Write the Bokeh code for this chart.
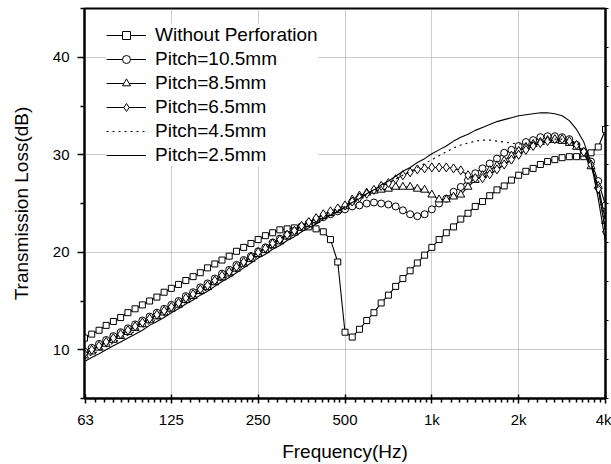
from bokeh.plotting import figure
from bokeh.models import FixedTicker, LinearAxis, Range1d, Legend, LegendItem
from bokeh.embed import file_html
from bokeh.resources import INLINE

# 1/12-octave frequency grid (Hz)
freq = [62.5, 66.2, 70.2, 74.3, 78.7, 83.4, 88.4, 93.6, 99.2, 105.1, 111.4, 118.0,
        125.0, 132.4, 140.3, 148.7, 157.5, 166.9, 176.8, 187.3, 198.4, 210.2, 222.7, 236.0,
        250.0, 264.9, 280.6, 297.3, 315.0, 333.7, 353.6, 374.6, 396.9, 420.4, 445.4, 471.9,
        500.0, 529.7, 561.2, 594.6, 630.0, 667.4, 707.1, 749.2, 793.7, 840.9, 890.9, 943.9,
        1000.0, 1059.5, 1122.5, 1189.2, 1259.9, 1334.8, 1414.2, 1498.3, 1587.4, 1681.8, 1781.8, 1887.7,
        2000.0, 2118.9, 2244.9, 2378.4, 2519.8, 2669.6, 2828.4, 2996.6, 3174.8, 3363.6, 3563.6, 3775.5,
        4000.0]

tl_without = [11.2, 11.6, 12.0, 12.5, 12.9, 13.3, 13.8, 14.2, 14.6, 15.0, 15.4, 15.9,
              16.3, 16.7, 17.1, 17.5, 17.9, 18.4, 18.8, 19.2, 19.6, 20.1, 20.5, 20.9,
              21.3, 21.7, 22.0, 22.3, 22.4, 22.5, 22.6, 22.6, 22.4, 22.1, 21.3, 19.0,
              11.8, 11.3, 12.1, 13.0, 13.8, 14.8, 15.6, 16.5, 17.3, 18.1, 18.9, 19.7,
              20.5, 21.3, 22.0, 22.6, 23.4, 24.0, 24.7, 25.2, 25.8, 26.4, 26.8, 27.4,
              27.9, 28.3, 28.6, 29.0, 29.3, 29.5, 29.7, 29.8, 29.8, 29.8, 30.2, 30.8,
              32.6]

tl_p105 = [9.8, 10.2, 10.6, 11.0, 11.4, 11.8, 12.2, 12.6, 13.0, 13.4, 13.8, 14.2,
           14.6, 15.0, 15.5, 15.9, 16.4, 16.8, 17.3, 17.8, 18.2, 18.7, 19.2, 19.6,
           20.1, 20.5, 21.0, 21.4, 21.8, 22.2, 22.6, 23.0, 23.3, 23.6, 23.9, 24.2,
           24.4, 24.7, 24.8, 25.0, 25.1, 25.0, 24.9, 24.7, 24.3, 23.9, 23.7, 23.9,
           24.4, 25.0, 25.5, 26.2, 26.7, 27.4, 28.1, 28.6, 29.1, 29.6, 30.2, 30.5,
           30.9, 31.3, 31.5, 31.8, 31.9, 31.9, 31.8, 31.6, 31.0, 30.3, 29.3, 27.3,
           24.8]

tl_p85 = [9.4, 9.8, 10.2, 10.6, 11.0, 11.4, 11.8, 12.2, 12.6, 13.0, 13.4, 13.8,
          14.2, 14.6, 15.1, 15.5, 16.0, 16.4, 16.9, 17.4, 17.8, 18.3, 18.8, 19.3,
          19.8, 20.2, 20.7, 21.1, 21.6, 22.0, 22.5, 22.9, 23.3, 23.7, 24.0, 24.3,
          24.7, 25.4, 25.8, 26.1, 26.3, 26.4, 26.5, 26.7, 26.7, 26.7, 26.5, 26.4,
          25.9, 25.4, 25.4, 25.7, 25.9, 26.7, 27.4, 27.9, 28.4, 28.9, 29.4, 29.9,
          30.4, 30.8, 31.1, 31.3, 31.5, 31.5, 31.4, 31.2, 30.8, 30.1, 28.8, 26.8,
          23.2]

tl_p65 = [9.6, 10.0, 10.4, 10.8, 11.2, 11.6, 12.0, 12.4, 12.8, 13.2, 13.6, 14.0,
          14.4, 14.8, 15.3, 15.7, 16.2, 16.6, 17.1, 17.6, 18.0, 18.5, 19.0, 19.5,
          20.0, 20.4, 20.9, 21.3, 21.8, 22.2, 22.7, 23.1, 23.5, 23.9, 24.2, 24.5,
          24.8, 25.2, 25.6, 26.0, 26.4, 26.8, 27.1, 27.5, 27.9, 28.2, 28.5, 28.6,
          28.7, 28.7, 28.7, 28.6, 28.4, 27.9, 27.6, 27.6, 28.0, 28.5, 29.0, 29.5,
          30.0, 30.5, 30.9, 31.2, 31.4, 31.6, 31.6, 31.4, 31.0, 30.3, 29.0, 26.5,
          22.1]

tl_p45 = [9.1, 9.5, 9.9, 10.3, 10.7, 11.1, 11.5, 11.9, 12.3, 12.7, 13.1, 13.5,
          14.0, 14.4, 14.9, 15.3, 15.8, 16.2, 16.7, 17.2, 17.6, 18.1, 18.6, 19.1,
          19.6, 20.0, 20.5, 20.9, 21.4, 21.8, 22.3, 22.7, 23.1, 23.5, 23.9, 24.3,
          24.7, 25.1, 25.5, 25.9, 26.3, 26.7, 27.1, 27.5, 27.9, 28.3, 28.7, 29.1,
          29.5, 29.9, 30.3, 30.7, 31.0, 31.2, 31.4, 31.5, 31.5, 31.4, 31.3, 31.2,
          31.1, 31.1, 31.2, 31.3, 31.5, 31.6, 31.6, 31.5, 31.2, 30.5, 29.4, 26.5,
          22.5]

tl_p25 = [8.8, 9.2, 9.6, 10.0, 10.4, 10.8, 11.2, 11.6, 12.0, 12.5, 12.9, 13.3,
          13.8, 14.2, 14.7, 15.1, 15.6, 16.0, 16.5, 17.0, 17.4, 17.9, 18.4, 18.9,
          19.4, 19.8, 20.3, 20.7, 21.2, 21.6, 22.1, 22.5, 22.9, 23.4, 23.8, 24.2,
          24.6, 25.1, 25.5, 26.0, 26.4, 26.9, 27.3, 27.8, 28.3, 28.7, 29.2, 29.6,
          30.1, 30.5, 30.9, 31.4, 31.8, 32.1, 32.5, 32.8, 33.1, 33.4, 33.6, 33.8,
          34.0, 34.1, 34.2, 34.3, 34.3, 34.2, 34.0, 33.5, 32.6, 31.3, 29.2, 25.5,
          21.0]

labels = ["Without Perforation", "Pitch=10.5mm", "Pitch=8.5mm",
          "Pitch=6.5mm", "Pitch=4.5mm", "Pitch=2.5mm"]

x_major = [63, 125, 250, 500, 1000, 2000, 4000]
x_major_labels = ["63", "125", "250", "500", "1k", "2k", "4k"]
y_major = [10, 20, 30, 40]
y_minor = [5, 15, 25, 35, 45]
right_ticks = [5, 9, 13, 17, 21, 25, 29, 33, 37, 41, 45]

FONT = "Liberation Sans"

p = figure(width=611, height=464, x_axis_type="log",
           x_range=Range1d(62.5, 4000), y_range=Range1d(5, 45),
           output_backend="svg", toolbar_location=None,
           min_border_left=84, min_border_right=6, min_border_top=8,
           min_border_bottom=63)
p.background_fill_color = "white"
p.border_fill_color = "white"
p.outline_line_color = "black"
p.outline_line_width = 2

# minor ticks: linear steps inside each octave
x_minor = []
for a, b in zip(x_major[:-1], x_major[1:]):
    step = (b - a) / 12.0
    x_minor += [a + i * step for i in range(1, 12)]

xax = p.xaxis[0]
xax.ticker = FixedTicker(ticks=x_major, minor_ticks=x_minor)
xax.major_label_overrides = {v: s for v, s in zip(x_major, x_major_labels)}
xax.axis_label = "Frequency(Hz)"
yax = p.yaxis[0]
yax.ticker = FixedTicker(ticks=y_major, minor_ticks=y_minor)
yax.axis_label = "Transmission Loss(dB)"

for ax in (xax, yax):
    ax.axis_line_width = 2
    ax.major_tick_line_width = 1.5
    ax.minor_tick_line_width = 1.5
    ax.major_label_text_font = FONT
    ax.major_label_text_font_size = "15px"
    ax.major_label_text_color = "black"
    ax.axis_label_text_font = FONT
    ax.axis_label_text_font_size = "19px"
    ax.axis_label_text_font_style = "normal"
    ax.axis_label_text_color = "black"
xax.major_tick_in = 4
xax.major_tick_out = 5
xax.minor_tick_in = 0
xax.minor_tick_out = 4
xax.major_label_standoff = 7
xax.axis_label_standoff = 10
yax.major_tick_in = 0
yax.major_tick_out = 7
yax.minor_tick_in = 0
yax.minor_tick_out = 4
yax.major_label_standoff = 8
yax.axis_label_standoff = 18

rax = LinearAxis(ticker=FixedTicker(ticks=right_ticks, minor_ticks=[]),
                 major_tick_in=0, major_tick_out=3, minor_tick_out=0,
                 major_label_text_font_size="0px", major_label_standoff=0,
                 axis_line_width=2, major_tick_line_width=1)
rax.major_label_overrides = {v: "" for v in right_ticks}
p.add_layout(rax, "right")

p.xgrid.ticker = FixedTicker(ticks=[125, 250, 500, 1000, 2000])
p.ygrid.ticker = FixedTicker(ticks=y_major)
for g in (p.xgrid[0], p.ygrid[0]):
    g.grid_line_color = "#9a9a9a"
    g.grid_line_dash = "1 1"
    g.grid_line_width = 1

series = [
    (tl_without, "square", 6, "solid"),
    (tl_p105, "circle", 7, "solid"),
    (tl_p85, "triangle", 8, "solid"),
    (tl_p65, "diamond", 9, "solid"),
    (tl_p45, None, 0, "2 4"),
    (tl_p25, None, 0, "solid"),
]

items = []
for (vals, marker, size, dash), lab in zip(series, labels):
    rs = []
    lr = p.line(freq, vals, line_color="black", line_width=1.1, line_dash=dash)
    rs.append(lr)
    if marker is not None:
        sr = p.scatter(freq, vals, marker=marker, size=size, fill_color="white",
                       line_color="black", line_width=1)
        rs.append(sr)
    items.append(LegendItem(label=lab, renderers=rs))

legend = Legend(items=items, location=(22, 232), orientation="vertical")
legend.border_line_color = None
legend.background_fill_color = "white"
legend.background_fill_alpha = 1.0
legend.label_text_font = FONT
legend.label_text_font_size = "19px"
legend.label_text_color = "black"
legend.glyph_width = 40
legend.glyph_height = 20
legend.label_height = 20
legend.label_standoff = 9
legend.spacing = 2
legend.padding = 10
legend.margin = 0
p.add_layout(legend, "center")

open("out.html", "w").write(file_html(p, INLINE))
